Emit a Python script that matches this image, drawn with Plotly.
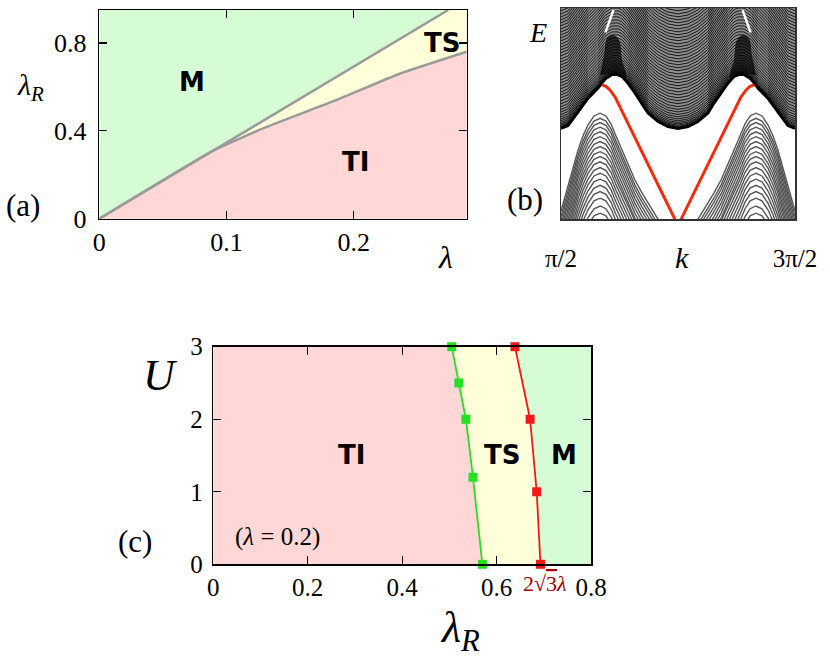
import plotly.graph_objects as go

# ---------------- data ----------------
# panel (a): phase diagram lambda vs lambda_R
a_lam_max = 0.2887
a_lamR_max = 0.95
a_upper_lam = [0.0, 0.2742]          # lambda_R = 2*sqrt(3)*lambda
a_upper_lamR = [0.0, 0.95]
a_lower_lam = [0.0, 0.0895, 0.1315, 0.184, 0.236, 0.2887]
a_lower_lamR = [0.0, 0.31, 0.418, 0.535, 0.66, 0.76]
a_xticks = [0.0, 0.1, 0.2]
a_xticklabels = ["0", "0.1", "0.2"]
a_yticks = [0.0, 0.4, 0.8]
a_yticklabels = ["0", "0.4", "0.8"]

# panel (b): band structure (k in units of pi, E arbitrary units), left half; right half is mirror k -> 2-k
b_edge_k = [0.50, 0.53, 0.573, 0.615, 0.658, 0.688, 0.718, 0.744, 0.761, 0.786, 0.816, 0.846, 0.872, 0.915, 0.957, 1.00]
b_edge_E = [0.430, 0.444, 0.508, 0.572, 0.621, 0.664, 0.685, 0.685, 0.676, 0.645, 0.598, 0.550, 0.503, 0.463, 0.439, 0.430]
b_upper_offsets = [0, 0.005, 0.010, 0.015, 0.021, 0.028, 0.036, 0.045, 0.055, 0.066, 0.078, 0.090,
                   0.103, 0.117, 0.131, 0.145, 0.159, 0.173, 0.188, 0.202, 0.216, 0.230, 0.244,
                   0.258, 0.273, 0.287, 0.301, 0.315, 0.329, 0.344, 0.358, 0.372, 0.386, 0.400,
                   0.415, 0.429, 0.443, 0.457, 0.471, 0.486, 0.500, 0.514, 0.528, 0.542, 0.557, 0.571]
b_arc_k = [0.500, 0.517, 0.534, 0.556, 0.573, 0.594, 0.615, 0.641, 0.667, 0.692, 0.714, 0.735,
           0.761, 0.786, 0.816, 0.846, 0.872, 0.902, 0.915]
b_arc_E = [0.039, 0.106, 0.172, 0.257, 0.328, 0.394, 0.446, 0.489, 0.502, 0.489, 0.451, 0.394,
           0.328, 0.267, 0.186, 0.125, 0.078, 0.025, 0.0]
b_arc_offsets = [0, 0.024, 0.044, 0.066, 0.088, 0.111, 0.134, 0.158, 0.182, 0.205, 0.230, 0.257,
                 0.284, 0.312, 0.341, 0.371, 0.402, 0.439, 0.473]
b_edge_state_k = [0.674, 0.692, 0.709, 0.731, 0.987]
b_edge_state_E = [0.636, 0.629, 0.612, 0.579, 0.0]
b_neck_k = [0.667, 0.684, 0.697, 0.722, 0.748, 0.761, 0.778, 0.720]
b_neck_E = [0.683, 0.778, 0.858, 0.872, 0.849, 0.754, 0.669, 0.686]
b_streak_k = [0.690, 0.724]
b_streak_E = [0.885, 0.990]
b_xticks = [0.5, 1.5]
b_xticklabels = ["π/2", "3π/2"]

# panel (c): U vs lambda_R at lambda = 0.2
c_green_U = [3, 2.5, 2, 1.2, 0]
c_green_lamR = [0.505, 0.52, 0.535, 0.55, 0.57]
c_red_U = [3, 2, 1, 0]
c_red_lamR = [0.639, 0.671, 0.685, 0.693]
c_xticks = [0, 0.2, 0.4, 0.6, 0.8]
c_xticklabels = ["0", "0.2", "0.4", "0.6", "0.8"]
c_yticks = [0, 1, 2, 3]
c_yticklabels = ["0", "1", "2", "3"]

PINK = "#ffd7d7"
GREEN = "#d6fcd6"
YELLOW = "#ffffd9"
SERIF = "Liberation Serif, DejaVu Serif, serif"
SANS = "DejaVu Sans, sans-serif"

W, H = 830, 664


def px(x):
    return x / W


def py(y):
    return 1 - y / H


fig = go.Figure()

# ---------------- panel (a) ----------------
fig.add_trace(go.Scatter(x=[0, 0, a_lam_max, a_lam_max, 0], y=[0, a_lamR_max, a_lamR_max, 0, 0],
                         fill="toself", fillcolor=GREEN, line=dict(width=0), mode="lines",
                         xaxis="x", yaxis="y", hoverinfo="skip"))
fig.add_trace(go.Scatter(x=a_upper_lam + [a_lam_max], y=a_upper_lamR + [a_lamR_max],
                         fill="tozeroy", fillcolor=YELLOW, line=dict(width=0), mode="lines",
                         xaxis="x", yaxis="y", hoverinfo="skip"))
fig.add_trace(go.Scatter(x=a_lower_lam, y=a_lower_lamR,
                         fill="tozeroy", fillcolor=PINK, line=dict(width=0), mode="lines",
                         xaxis="x", yaxis="y", hoverinfo="skip"))
fig.add_trace(go.Scatter(x=a_upper_lam, y=a_upper_lamR, mode="lines",
                         line=dict(color="#9a9a9a", width=2.5), xaxis="x", yaxis="y"))
fig.add_trace(go.Scatter(x=a_lower_lam, y=a_lower_lamR, mode="lines", line_shape="spline",
                         line=dict(color="#9a9a9a", width=2.5, smoothing=0.4), xaxis="x", yaxis="y"))

# ---------------- panel (b) ----------------
edge_k_full = b_edge_k + [2 - k for k in reversed(b_edge_k[:-1])]
edge_E_full = b_edge_E + list(reversed(b_edge_E[:-1]))
fig.add_trace(go.Scatter(x=edge_k_full + [1.5, 0.5], y=edge_E_full + [1.0, 1.0],
                         fill="toself", fillcolor="#8e8e8e", line=dict(width=0), mode="lines",
                         xaxis="x2", yaxis="y2", hoverinfo="skip"))
ux, uy = [], []
for off in b_upper_offsets:
    ux += edge_k_full + [None]
    uy += [e + off for e in edge_E_full] + [None]
fig.add_trace(go.Scatter(x=ux, y=uy, mode="lines", line=dict(color="#151515", width=1.0),
                         xaxis="x2", yaxis="y2", hoverinfo="skip"))
for side in (0, 1):
    nk = b_neck_k if side == 0 else [2 - k for k in b_neck_k]
    fig.add_trace(go.Scatter(x=nk, y=b_neck_E, mode="lines", fill="toself",
                             fillcolor="rgba(0,0,0,0.7)", line=dict(width=0), line_shape="spline",
                             xaxis="x2", yaxis="y2", hoverinfo="skip"))
fig.add_trace(go.Scatter(x=edge_k_full, y=edge_E_full, mode="lines", line=dict(color="black", width=3),
                         xaxis="x2", yaxis="y2", hoverinfo="skip"))
for side in (0, 1):
    sk = b_streak_k if side == 0 else [2 - k for k in b_streak_k]
    fig.add_trace(go.Scatter(x=sk, y=b_streak_E, mode="lines", line=dict(color="white", width=2.5),
                             xaxis="x2", yaxis="y2", hoverinfo="skip"))
ax, ay = [], []
for off in b_arc_offsets:
    for side in (0, 1):
        ks = b_arc_k if side == 0 else [2 - k for k in b_arc_k]
        ax += ks + [None]
        ay += [e - off for e in b_arc_E] + [None]
fig.add_trace(go.Scatter(x=ax, y=ay, mode="lines", line=dict(color="#555555", width=1.4),
                         xaxis="x2", yaxis="y2", hoverinfo="skip"))
for side in (0, 1):
    ks = b_edge_state_k if side == 0 else [2 - k for k in b_edge_state_k]
    fig.add_trace(go.Scatter(x=ks, y=b_edge_state_E, mode="lines", line=dict(color="#f52a0a", width=3),
                             xaxis="x2", yaxis="y2", hoverinfo="skip"))

# ---------------- panel (c) ----------------
fig.add_trace(go.Scatter(x=[0, 0, 0.8, 0.8, 0], y=[0, 3, 3, 0, 0], fill="toself", fillcolor=GREEN,
                         line=dict(width=0), mode="lines", xaxis="x3", yaxis="y3", hoverinfo="skip"))
fig.add_trace(go.Scatter(x=c_red_lamR, y=c_red_U, fill="tozerox", fillcolor=YELLOW,
                         line=dict(width=0), mode="lines", xaxis="x3", yaxis="y3", hoverinfo="skip"))
fig.add_trace(go.Scatter(x=c_green_lamR, y=c_green_U, fill="tozerox", fillcolor=PINK,
                         line=dict(width=0), mode="lines", xaxis="x3", yaxis="y3", hoverinfo="skip"))
fig.add_trace(go.Scatter(x=c_green_lamR, y=c_green_U, mode="lines+markers",
                         line=dict(color="#22e022", width=1.8),
                         marker=dict(symbol="square", size=9, color="#22e022"),
                         cliponaxis=False, xaxis="x3", yaxis="y3"))
fig.add_trace(go.Scatter(x=c_red_lamR, y=c_red_U, mode="lines+markers",
                         line=dict(color="#ee1a1a", width=1.8),
                         marker=dict(symbol="square", size=9, color="#ee1a1a"),
                         cliponaxis=False, xaxis="x3", yaxis="y3"))

axis_common = dict(showline=True, linecolor="black", linewidth=1.5, mirror="ticks",
                   ticks="inside", ticklen=8, tickwidth=1.2, tickcolor="black",
                   showgrid=False, zeroline=False, fixedrange=True, automargin=False)

fig.update_layout(
    template="none",
    width=W, height=H, margin=dict(l=0, r=0, t=0, b=0, pad=0, autoexpand=False),
    paper_bgcolor="white", plot_bgcolor="white", showlegend=False,
    font=dict(family=SERIF, color="black"),
    xaxis=dict(domain=[px(99.3), px(466.7)], range=[0, a_lam_max], anchor="y",
               tickvals=a_xticks, ticktext=a_xticklabels, ticklabelstandoff=0,
               tickfont=dict(family=SERIF, size=26, color="black"), **axis_common),
    yaxis=dict(domain=[py(218.7), py(10)], range=[0, a_lamR_max], anchor="x",
               tickvals=a_yticks, ticktext=a_yticklabels, ticklabelstandoff=6,
               tickfont=dict(family=SERIF, size=26, color="black"), **axis_common),
    xaxis2=dict(domain=[px(561), px(795)], range=[0.5, 1.5], anchor="y2",
                tickvals=b_xticks, ticktext=b_xticklabels, ticks="", ticklabelstandoff=16,
                showline=True, linecolor="#333333", linewidth=1.5, mirror=True,
                showgrid=False, zeroline=False, fixedrange=True, automargin=False,
                tickfont=dict(family=SERIF, size=25, color="black")),
    yaxis2=dict(domain=[py(219.3), py(8)], range=[0, 1], anchor="x2",
                showticklabels=False, ticks="", showline=True, linecolor="#333333",
                linewidth=1.5, mirror=True, showgrid=False, zeroline=False, fixedrange=True,
                automargin=False),
    xaxis3=dict(domain=[px(213.3), px(591)], range=[0, 0.8], anchor="y3",
                tickvals=c_xticks, ticktext=c_xticklabels, ticklabelstandoff=0,
                tickfont=dict(family=SERIF, size=25, color="black"), **axis_common),
    yaxis3=dict(domain=[py(564.3), py(346.7)], range=[0, 3], anchor="x3",
                tickvals=c_yticks, ticktext=c_yticklabels, ticklabelstandoff=4,
                tickfont=dict(family=SERIF, size=25, color="black"), **axis_common),
)


def ann(text, x, y, size, family=SERIF, color="black", bold=False):
    if bold:
        text = "<b>" + text + "</b>"
    fig.add_annotation(text=text, x=px(x), y=py(y), xref="paper", yref="paper",
                       xanchor="center", yanchor="middle", showarrow=False,
                       font=dict(family=family, size=size, color=color))


# panel (a) labels
ann("<i>λ</i><sub><i>R</i></sub>", 30, 87, 30)
ann("<i>λ</i>", 445, 257, 32)
ann("(a)", 23, 205, 31)
ann("M", 192, 82, 26, SANS, bold=True)
ann("TS", 441.7, 43, 26, SANS, bold=True)
ann("TI", 355, 162, 26, SANS, bold=True)
# panel (b) labels
ann("<i>E</i>", 538, 33, 28)
ann("(b)", 525, 200, 31)
ann("<i>k</i>", 682, 258, 30)
# panel (c) labels
ann("<i>U</i>", 160, 375, 44)
ann("<i>λ</i><sub><i>R</i></sub>", 460, 630, 44)
ann("(c)", 135, 541, 31)
ann("(<i>λ</i> = 0.2)", 277, 537, 25)
ann("2√<span style='text-decoration:overline'>3</span><i>λ</i>", 545, 583, 22, color="#a00000")
ann("TI", 351.7, 455, 26, SANS, bold=True)
ann("TS", 501.7, 455, 26, SANS, bold=True)
ann("M", 564.3, 455, 26, SANS, bold=True)

fig.write_html("out.html", config={"displayModeBar": False, "staticPlot": True},
               post_script="document.body.style.margin='0px';")
